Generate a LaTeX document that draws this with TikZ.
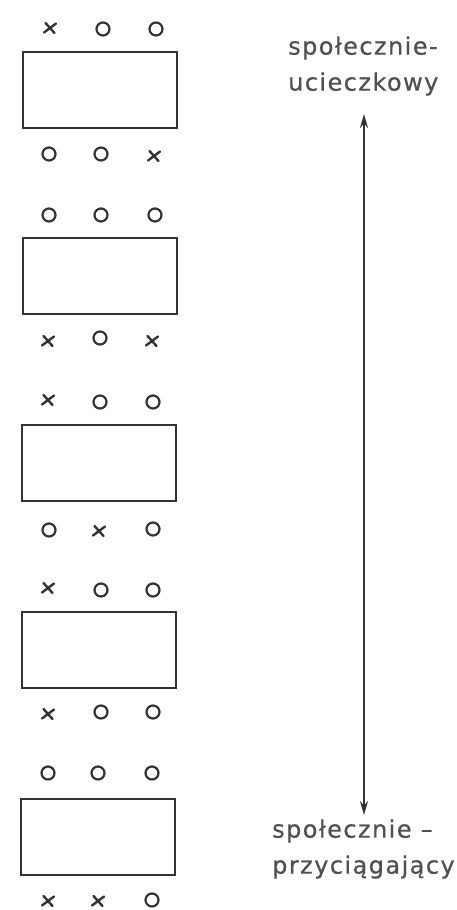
\documentclass[tikz,border=0pt]{standalone}
\usepackage{fontspec}
\newfontfamily\labfont[LetterSpace=6,FakeBold=0.6]{DejaVu Sans}
\usetikzlibrary{arrows.meta}
\definecolor{ink}{HTML}{333333}
\definecolor{txt}{HTML}{505050}
\tikzset{
  frame/.style={draw=ink, line width=2.4pt, minimum width=154pt, minimum height=76pt, inner sep=0pt},
  omark/.style={circle, draw=ink, line width=2.2pt, minimum size=13pt, inner sep=0pt},
  xmark/.style={minimum size=14pt, inner sep=0pt, path picture={
      \draw[ink, line width=2.4pt, line cap=round]
        ([xshift=-6pt,yshift=-4.5pt]path picture bounding box.center) -- ([xshift=6pt,yshift=4.5pt]path picture bounding box.center)
        ([xshift=-4.5pt,yshift=5pt]path picture bounding box.center) -- ([xshift=4.5pt,yshift=-5pt]path picture bounding box.center);}},
  lab/.style={text=txt, font=\labfont\fontsize{24}{28}\selectfont, inner sep=0pt, anchor=west},
  arr/.style={draw=ink, line width=2pt, {Stealth[length=14pt,width=8pt]}-{Stealth[length=14pt,width=8pt]}}
}
\begin{document}
\begin{tikzpicture}[x=1pt,y=-1pt]
\useasboundingbox (0,0) rectangle (456,910);
% boxes
\node[frame] (b1) at (100,90) {};
\node[frame] (b2) at (100,276) {};
\node[frame] (b3) at (99,463) {};
\node[frame] (b4) at (99,650) {};
\node[frame] (b5) at (98,837) {};
% marks box 1
\node[xmark] (m11) at (50,28) {};
\node[omark] (m12) at (103,29) {};
\node[omark] (m13) at (156,29) {};
\node[omark] (m14) at (49,154) {};
\node[omark] (m15) at (101,154) {};
\node[xmark] (m16) at (154,156) {};
% box 2
\node[omark] (m21) at (49,215) {};
\node[omark] (m22) at (101,215) {};
\node[omark] (m23) at (155,215) {};
\node[xmark] (m24) at (48,341) {};
\node[omark] (m25) at (100,338) {};
\node[xmark] (m26) at (152,341) {};
% box 3
\node[xmark] (m31) at (48,400) {};
\node[omark] (m32) at (100,402) {};
\node[omark] (m33) at (153,402) {};
\node[omark] (m34) at (49,530) {};
\node[xmark] (m35) at (99,531) {};
\node[omark] (m36) at (153,529) {};
% box 4
\node[xmark] (m41) at (48,588) {};
\node[omark] (m42) at (101,590) {};
\node[omark] (m43) at (153,590) {};
\node[xmark] (m44) at (48,714) {};
\node[omark] (m45) at (101,712) {};
\node[omark] (m46) at (153,712) {};
% box 5
\node[omark] (m51) at (48,773) {};
\node[omark] (m52) at (98,773) {};
\node[omark] (m53) at (152,773) {};
\node[xmark] (m54) at (48,901) {};
\node[xmark] (m55) at (98,901) {};
\node[omark] (m56) at (152,900) {};
% labels
\node[lab] (t1) at (288,48) {społecznie-};
\node[lab] (t2) at (288,84) {ucieczkowy};
\node[lab] (t3) at (272,831) {społecznie –};
\node[lab] (t4) at (272,867) {przyciągający};
% arrow
\coordinate (atop) at (364,114);
\coordinate (abot) at (364,815);
\draw[arr] (atop) -- (abot);
\end{tikzpicture}
\end{document}
